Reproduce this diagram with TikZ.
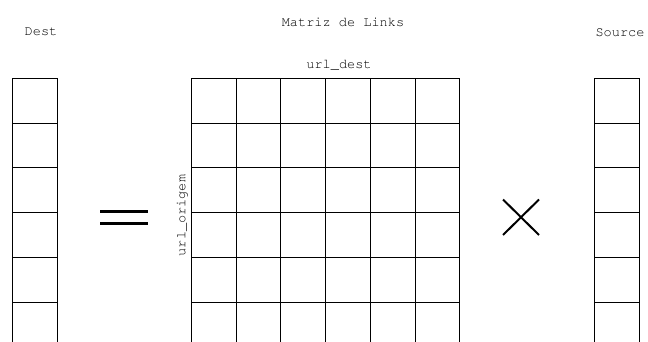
\documentclass[tikz,border=0pt]{standalone}
\usepackage[T1]{fontenc}
\usepackage{courier}
\renewcommand{\familydefault}{\ttdefault}
\begin{document}
\begin{tikzpicture}[x=1pt,y=-1pt,
  cell/.style={draw=black,line width=0.9pt,rectangle,minimum width=44.7pt,minimum height=44.7pt,inner sep=0pt,anchor=north west},
  lbl/.style={font=\fontsize{13.6}{15}\selectfont,inner sep=0pt}]
\useasboundingbox (0,0) rectangle (648,342);
\clip (0,0) rectangle (648,342);
% Dest, matrix and Source cells
\foreach \i in {0,...,5}{
  \node[cell] (d\i) at (12,{78+44.7*\i}) {};
  \node[cell] (s\i) at (594,{78+44.7*\i}) {};
  \foreach \j in {0,...,5}{
    \node[cell] (m\i\j) at ({191+44.7*\j},{78+44.7*\i}) {};
  }
}
\node[lbl] (dest) at (41,32) {Dest};
\node[lbl] (src) at (620,33) {Source};
\node[lbl] (title) at (343,22.5) {Matriz de Links};
\node[lbl] (urld) at (339,65) {url\_dest};
\node[lbl,rotate=90] (urlo) at (182,215.5) {url\_origem};
% equals sign
\coordinate (e1a) at (100,211.7); \coordinate (e1b) at (147.7,211.7);
\coordinate (e2a) at (100,223); \coordinate (e2b) at (147.7,223);
\draw[line width=3pt] (e1a) -- (e1b);
\draw[line width=3pt] (e2a) -- (e2b);
% times sign
\coordinate (t1) at (503,199.5); \coordinate (t2) at (539,235);
\coordinate (t3) at (503,235); \coordinate (t4) at (539,199.5);
\draw[line width=2pt] (t1) -- (t2);
\draw[line width=2pt] (t3) -- (t4);
\end{tikzpicture}
\end{document}
